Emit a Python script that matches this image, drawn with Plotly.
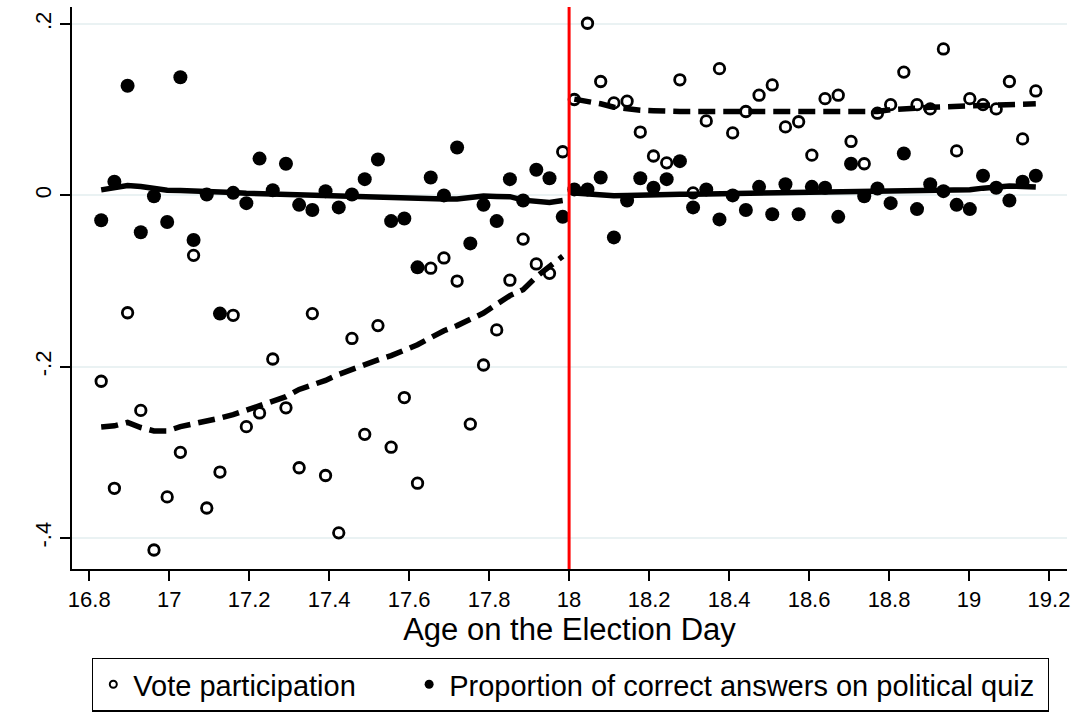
import plotly.graph_objects as go

# ---------------- data ----------------
age_left = [16.830, 16.863, 16.896, 16.929, 16.962, 16.995, 17.028, 17.061, 17.094,
            17.127, 17.160, 17.193, 17.226, 17.259, 17.292, 17.325, 17.358, 17.391,
            17.424, 17.457, 17.489, 17.522, 17.555, 17.588, 17.621, 17.654, 17.687,
            17.720, 17.753, 17.786, 17.819, 17.852, 17.885, 17.918, 17.951, 17.984]
age_right = [18.013, 18.046, 18.079, 18.112, 18.145, 18.178, 18.211, 18.244, 18.277,
             18.310, 18.343, 18.376, 18.409, 18.442, 18.475, 18.508, 18.541, 18.574,
             18.607, 18.640, 18.673, 18.705, 18.738, 18.771, 18.804, 18.837, 18.870,
             18.903, 18.936, 18.969, 19.002, 19.035, 19.068, 19.101, 19.134, 19.167]

vote_left = [-0.217, -0.342, -0.137, -0.251, -0.414, -0.352, -0.300, -0.070, -0.365,
             -0.323, -0.140, -0.270, -0.254, -0.191, -0.248, -0.318, -0.138, -0.327,
             -0.394, -0.167, -0.279, -0.152, -0.294, -0.236, -0.336, -0.085, -0.073,
             -0.100, -0.267, -0.198, -0.157, -0.099, -0.051, -0.080, -0.091, 0.051]
vote_right = [0.112, 0.201, 0.133, 0.108, 0.110, 0.074, 0.046, 0.038, 0.135,
              0.003, 0.087, 0.148, 0.073, 0.098, 0.117, 0.129, 0.080, 0.086,
              0.047, 0.113, 0.117, 0.063, 0.037, 0.096, 0.106, 0.144, 0.106,
              0.101, 0.171, 0.052, 0.113, 0.106, 0.101, 0.133, 0.066, 0.122]

quiz_left = [-0.029, 0.016, 0.128, -0.043, -0.001, -0.031, 0.138, -0.052, 0.001,
             -0.138, 0.003, -0.009, 0.043, 0.006, 0.037, -0.011, -0.017, 0.005,
             -0.014, 0.001, 0.019, 0.042, -0.030, -0.027, -0.084, 0.021, 0.000,
             0.056, -0.056, -0.011, -0.030, 0.019, -0.006, 0.030, 0.020, -0.025]
quiz_right = [0.007, 0.007, 0.021, -0.049, -0.006, 0.020, 0.009, 0.019, 0.040,
              -0.014, 0.007, -0.028, 0.000, -0.017, 0.010, -0.022, 0.013, -0.022,
              0.010, 0.009, -0.025, 0.037, -0.001, 0.008, -0.009, 0.049, -0.016,
              0.013, 0.005, -0.011, -0.016, 0.023, 0.009, -0.006, 0.016, 0.023]

# lowess fits
vote_fit_left = [-0.2705, -0.269, -0.265, -0.271, -0.275, -0.275, -0.270, -0.267, -0.264,
                 -0.260, -0.256, -0.251, -0.246, -0.240, -0.235, -0.2265, -0.222, -0.216,
                 -0.209, -0.203, -0.198, -0.192, -0.187, -0.181, -0.1744, -0.166, -0.158,
                 -0.152, -0.145, -0.1374, -0.127, -0.117, -0.110, -0.095, -0.083, -0.071]
vote_fit_right = [0.1124, 0.110, 0.107, 0.103, 0.101, 0.0995, 0.0988, 0.098, 0.098,
                  0.098, 0.098, 0.098, 0.098, 0.098, 0.098, 0.098, 0.098, 0.098,
                  0.098, 0.098, 0.098, 0.098, 0.098, 0.098, 0.100, 0.1015, 0.102,
                  0.103, 0.1035, 0.104, 0.1045, 0.1046, 0.1045, 0.1045, 0.106, 0.107]
quiz_fit_left = [0.0065, 0.009, 0.0116, 0.0105, 0.0085, 0.0060, 0.0058, 0.0055, 0.0048,
                 0.0040, 0.0033, 0.0025, 0.0020, 0.0017, 0.0013, 0.0008, 0.0003, -0.0005,
                 -0.001, -0.0015, -0.002, -0.003, -0.0036, -0.004, -0.004, -0.0042, -0.0043,
                 -0.0043, -0.002, -0.0008, -0.0012, -0.0015, -0.0055, -0.0075, -0.0083, -0.006]
quiz_fit_right = [0.0027, 0.0015, 0.0005, -0.0005, -0.0002, 0.0005, 0.001, 0.0013, 0.0015,
                  0.0015, 0.0017, 0.0018, 0.0019, 0.002, 0.0022, 0.0024, 0.0026, 0.0027,
                  0.0029, 0.0031, 0.0033, 0.0035, 0.0037, 0.0039, 0.0041, 0.0043, 0.0045,
                  0.0048, 0.005, 0.0058, 0.0065, 0.0085, 0.0102, 0.011, 0.0105, 0.0097]

cutoff = 18.0
x_ticks = [16.8, 17.0, 17.2, 17.4, 17.6, 17.8, 18.0, 18.2, 18.4, 18.6, 18.8, 19.0, 19.2]
x_tick_labels = ["16.8", "17", "17.2", "17.4", "17.6", "17.8", "18", "18.2", "18.4",
                 "18.6", "18.8", "19", "19.2"]
y_ticks = [-0.4, -0.2, 0.0, 0.2]
y_tick_labels = ["-.4", "-.2", "0", ".2"]

x_title = "Age on the Election Day"
legend_vote = "Vote participation"
legend_quiz = "Proportion of correct answers on political quiz"

# ---------------- figure ----------------
FONT = "Liberation Sans, Arial, Helvetica, sans-serif"
fig = go.Figure()

open_marker = dict(symbol="circle-open", size=10.5, color="black", line=dict(width=2.8, color="black"))
filled_marker = dict(symbol="circle", size=14, color="black", line=dict(width=0))

for xs, ys in [(age_left, vote_left), (age_right, vote_right)]:
    fig.add_trace(go.Scatter(x=xs, y=ys, mode="markers", marker=open_marker,
                             showlegend=False, hoverinfo="skip"))
for xs, ys in [(age_left, quiz_left), (age_right, quiz_right)]:
    fig.add_trace(go.Scatter(x=xs, y=ys, mode="markers", marker=filled_marker,
                             showlegend=False, hoverinfo="skip"))
for xs, ys in [(age_left, quiz_fit_left), (age_right, quiz_fit_right)]:
    fig.add_trace(go.Scatter(x=xs, y=ys, mode="lines",
                             line=dict(color="black", width=5.5),
                             showlegend=False, hoverinfo="skip"))
for xs, ys in [(age_left, vote_fit_left), (age_right, vote_fit_right)]:
    fig.add_trace(go.Scatter(x=xs, y=ys, mode="lines",
                             line=dict(color="black", width=5.5, dash="17px,8px"),
                             showlegend=False, hoverinfo="skip"))

# legend entries
fig.add_trace(go.Scatter(x=[None], y=[None], mode="markers",
                         marker=dict(symbol="circle-open", size=7, color="black",
                                     line=dict(width=2, color="black")),
                         name=legend_vote + "\u00a0" * 6))
fig.add_trace(go.Scatter(x=[None], y=[None], mode="markers",
                         marker=dict(symbol="circle", size=9, color="black"),
                         name=legend_quiz + "\u00a0"))

fig.add_shape(type="line", xref="x", yref="paper", x0=cutoff, x1=cutoff, y0=0, y1=1,
              line=dict(color="#ff0000", width=3), layer="above")

fig.update_layout(
    width=1081, height=713,
    margin=dict(l=72, r=14, t=7, b=144, autoexpand=False),
    paper_bgcolor="white", plot_bgcolor="white",
    font=dict(family=FONT, color="black"),
    showlegend=True,
    legend=dict(orientation="h", x=0.0201, y=-0.1577, xanchor="left", yanchor="top",
                bordercolor="black", borderwidth=1.3, bgcolor="white",
                font=dict(size=29, family=FONT, color="black"),
                itemwidth=30),
    xaxis=dict(range=[16.757, 19.245], tickmode="array", tickvals=x_ticks,
               ticktext=x_tick_labels, showgrid=False, zeroline=False,
               showline=True, linecolor="black", linewidth=1.5,
               ticks="outside", ticklen=10, tickwidth=1.5, tickcolor="black",
               tickfont=dict(size=22, family=FONT), automargin=False,
               title=dict(text=x_title, font=dict(size=31, family=FONT), standoff=6)),
    yaxis=dict(range=[-0.4362, 0.220], tickmode="array", tickvals=y_ticks,
               ticktext=y_tick_labels, showgrid=True, gridcolor="#eaf2f3", gridwidth=2,
               zeroline=False, showline=True, linecolor="black", linewidth=1.5,
               ticks="outside", ticklen=10, tickwidth=1.5, tickcolor="black",
               tickangle=-90, tickfont=dict(size=22, family=FONT), automargin=False),
)

fig.write_html("out.html", config={"displayModeBar": False},
               post_script="document.body.style.margin='0';")
